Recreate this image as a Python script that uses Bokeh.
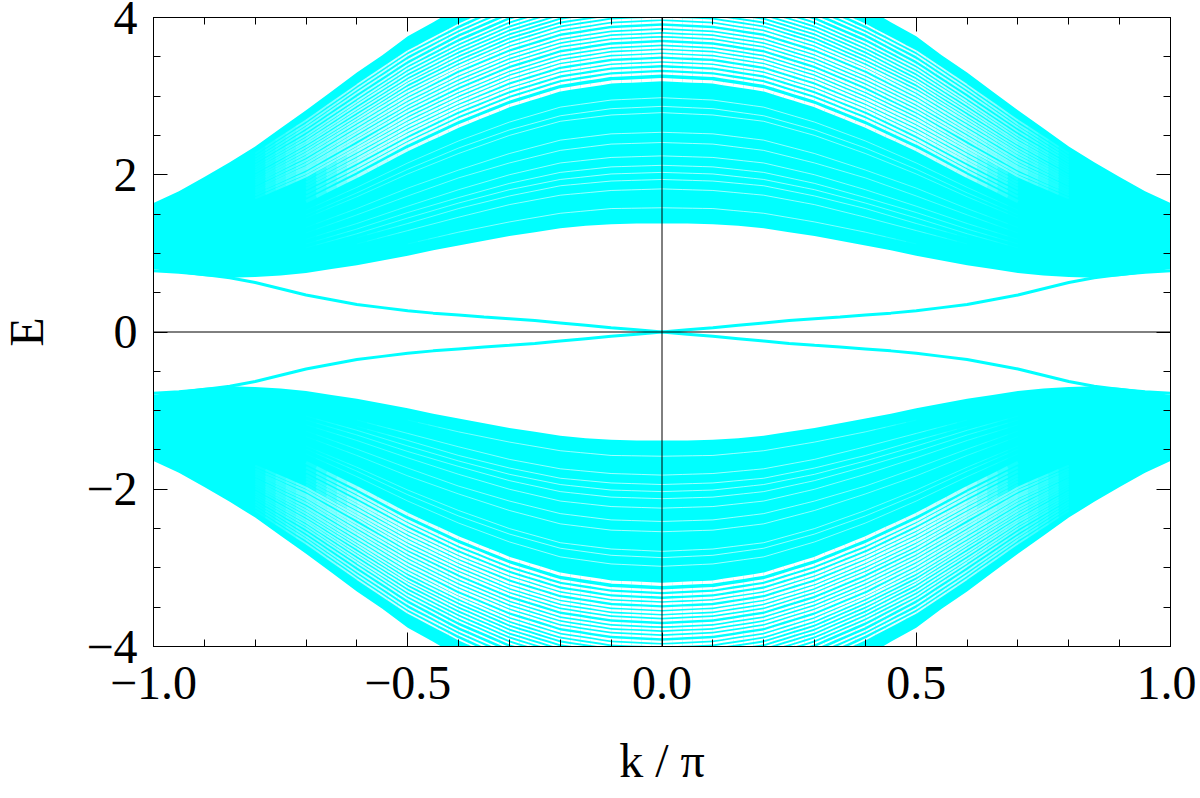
from bokeh.plotting import figure
from bokeh.models import Range1d, LinearAxis, SingleIntervalTicker, Span, ColumnDataSource
from bokeh.embed import file_html
from bokeh.resources import INLINE

# ---- data (k >= 0, E >= 0 quadrant; the figure is symmetric) ----
k_pts = [0.0, 0.05, 0.1, 0.15, 0.2, 0.25, 0.3, 0.35, 0.4, 0.45, 0.5,
         0.55, 0.6, 0.65, 0.7, 0.75, 0.8, 0.85, 0.9, 0.95, 1.0]
band_top = [4.72, 4.72, 4.70, 4.66, 4.60, 4.53, 4.45, 4.30, 4.13, 3.94, 3.76,
            3.52, 3.30, 3.06, 2.82, 2.59, 2.36, 2.16, 1.97, 1.79, 1.64]
band_bottom = [1.38, 1.38, 1.37, 1.35, 1.32, 1.27, 1.22, 1.16, 1.10, 1.04, 0.97,
               0.91, 0.85, 0.80, 0.75, 0.72, 0.70, 0.69, 0.71, 0.75, 0.80]
edge_state = [0.0, 0.028, 0.055, 0.085, 0.115, 0.145, 0.17, 0.19, 0.215, 0.24, 0.27,
              0.31, 0.35, 0.41, 0.47, 0.55, 0.63, 0.69, 0.73, 0.76, 0.78]

# visible gaps between sub-bands (upper bold stripes), sampled at k = 0, 0.1, ...
stripe_k = [0.0, 0.1, 0.2, 0.3, 0.4, 0.5, 0.6, 0.7, 0.8]
upper_gaps = [
    [3.21, 3.18, 3.08, 2.88, 2.62, 2.32, 1.98, 1.66],
    [3.29, 3.26, 3.16, 2.96, 2.70, 2.40, 2.05, 1.72],
    [3.35, 3.32, 3.22, 3.02, 2.76, 2.45, 2.10, 1.77],
    [3.41, 3.38, 3.28, 3.08, 2.82, 2.51, 2.16, 1.82],
    [3.46, 3.43, 3.33, 3.13, 2.87, 2.56, 2.20, 1.86],
    [3.52, 3.49, 3.39, 3.19, 2.92, 2.61, 2.25, 1.90],
    [3.57, 3.54, 3.44, 3.24, 2.97, 2.66, 2.30, 1.94],
    [3.62, 3.59, 3.49, 3.29, 3.02, 2.71, 2.34, 1.98, 1.70],
    [3.67, 3.64, 3.54, 3.34, 3.07, 2.76, 2.38, 2.02, 1.74],
    [3.73, 3.70, 3.60, 3.40, 3.13, 2.81, 2.44, 2.07, 1.77],
    [3.78, 3.75, 3.65, 3.45, 3.18, 2.86, 2.48, 2.10, 1.80],
    [3.83, 3.80, 3.70, 3.50, 3.23, 2.91, 2.53, 2.14, 1.83],
    [3.88, 3.85, 3.75, 3.55, 3.28, 2.96, 2.57, 2.18, 1.87],
    [3.94, 3.91, 3.81, 3.61, 3.34, 3.01, 2.62, 2.23, 1.90],
    [3.99, 3.96, 3.86, 3.66, 3.38, 3.06, 2.67, 2.27, 1.93],
    [4.04, 4.01, 3.91, 3.71, 3.43, 3.11, 2.71, 2.31, 1.96],
    [4.09, 4.06, 3.96, 3.76, 3.48, 3.16, 2.75, 2.35, 1.99],
    [4.14, 4.11, 4.01, 3.81, 3.53, 3.20, 2.80, 2.39, 2.03],
    [4.19, 4.16, 4.06, 3.86, 3.58, 3.25, 2.84, 2.42, 2.06],
    [4.24, 4.21, 4.11, 3.91, 3.63, 3.30, 2.89, 2.46, 2.09],
    [4.29, 4.26, 4.16, 3.96, 3.68, 3.35, 2.93, 2.50, 2.12],
    [4.35, 4.32, 4.22, 4.02, 3.74, 3.40, 2.98, 2.55, 2.16],
    [4.41, 4.38, 4.28, 4.08, 3.80, 3.46, 3.04, 2.60, 2.19],
    [4.47, 4.44, 4.34, 4.14, 3.85, 3.52, 3.09, 2.64, 2.23],
    [4.53, 4.50, 4.40, 4.20, 3.91, 3.57, 3.14, 2.69, 2.27],
]
upper_gap_width = [3.2] + [2.4] * 6 + [2.2] * 8 + [1.8] * 10

# faint gaps in the lower (dense) sub-band
lower_gaps = [
    [2.98, 2.95, 2.86, 2.67, 2.43, 2.15, 1.84, 1.55],
    [2.87, 2.84, 2.75, 2.57, 2.34, 2.07, 1.77, 1.49],
    [2.79, 2.76, 2.68, 2.50, 2.27, 2.01, 1.72, 1.45],
    [2.54, 2.52, 2.44, 2.27, 2.06, 1.83, 1.57, 1.33],
    [2.41, 2.39, 2.31, 2.15, 1.96, 1.73, 1.49, 1.26],
    [2.24, 2.22, 2.15, 2.00, 1.81, 1.60, 1.38, 1.18],
    [2.12, 2.10, 2.03, 1.89, 1.71, 1.52, 1.31, 1.12],
    [2.03, 2.01, 1.94, 1.81, 1.64, 1.45, 1.25, 1.07],
    [1.94, 1.92, 1.86, 1.73, 1.57, 1.38, 1.20],
    [1.82, 1.80, 1.74, 1.62, 1.46, 1.29, 1.12],
    [1.58, 1.57, 1.51, 1.40, 1.27, 1.12],
]
# visibility of the gaps along k (fading where the bands merge)
upper_alpha_k = [1.0, 1.0, 1.0, 1.0, 0.95, 0.85, 0.65, 0.4, 0.15]
lower_alpha_k = [0.7, 0.7, 0.65, 0.6, 0.5, 0.38, 0.25, 0.12]

x_tick_values = [-1.0, -0.5, 0.0, 0.5, 1.0]
x_tick_labels = ["\u22121.0", "\u22120.5", "0.0", "0.5", "1.0"]
y_tick_values = [-4, -2, 0, 2, 4]
y_tick_labels = ["\u22124", "\u22122", "0", "2", "4"]

CYAN = "#00FFFF"
FONT = "Liberation Serif"
SUB = 5  # pieces per drawn segment (for a smooth alpha fade)


def mirror_k(vals):
    """full k axis from -1 to 1 from the k >= 0 half (figure is symmetric in k)."""
    return list(reversed(vals)) + vals[1:]


k_full = [-k for k in reversed(k_pts)] + k_pts[1:]
top_full = mirror_k(band_top)
bot_full = mirror_k(band_bottom)

p = figure(width=1200, height=798, x_range=Range1d(-1, 1), y_range=Range1d(-4, 4),
           output_backend="svg", toolbar_location=None,
           min_border_left=157, min_border_top=21, min_border_right=26, min_border_bottom=148)
p.styles = {"margin-top": "-4px", "margin-left": "-4px"}
p.grid.visible = False
p.outline_line_color = "black"
p.outline_line_width = 1
p.background_fill_color = "white"
p.border_fill_color = "white"

# bulk continua
p.varea(x=k_full, y1=bot_full, y2=top_full, fill_color=CYAN)
p.varea(x=k_full, y1=[-v for v in top_full], y2=[-v for v in bot_full], fill_color=CYAN)

# white gaps between sub-bands, drawn as segments that fade with k
seg = dict(x0=[], y0=[], x1=[], y1=[], w=[], a=[])


def add_gap(vals, width, alphas):
    n = len(vals)
    for i in range(n - 1):
        a0 = alphas[i]
        a1 = 0.0 if i + 1 == n - 1 else alphas[i + 1]
        for s in range(SUB):
            t0, t1 = s / SUB, (s + 1) / SUB
            xa = stripe_k[i] + (stripe_k[i + 1] - stripe_k[i]) * t0
            xb = stripe_k[i] + (stripe_k[i + 1] - stripe_k[i]) * t1
            ya = vals[i] + (vals[i + 1] - vals[i]) * t0
            yb = vals[i] + (vals[i + 1] - vals[i]) * t1
            al = a0 + (a1 - a0) * (t0 + t1) / 2
            for sx in (1, -1):
                for sy in (1, -1):
                    seg["x0"].append(sx * xa)
                    seg["x1"].append(sx * xb)
                    seg["y0"].append(sy * ya)
                    seg["y1"].append(sy * yb)
                    seg["w"].append(width)
                    seg["a"].append(al)


for vals, w in zip(upper_gaps, upper_gap_width):
    add_gap(vals, w, upper_alpha_k)
for vals in lower_gaps:
    add_gap(vals, 0.9, lower_alpha_k)

p.segment(x0="x0", y0="y0", x1="x1", y1="y1", line_width="w", line_alpha="a",
          line_color="white", source=ColumnDataSource(seg))

# edge states crossing at k = 0
edge_a = list(reversed(edge_state)) + [-e for e in edge_state[1:]]
p.line(k_full, edge_a, line_color=CYAN, line_width=3)
p.line(k_full, [-e for e in edge_a], line_color=CYAN, line_width=3)

# zero lines
p.add_layout(Span(location=0, dimension="height", line_color="black", line_width=1))
p.add_layout(Span(location=0, dimension="width", line_color="black", line_width=1))


def style_axis(ax, ticker, overrides, show_labels):
    ax.ticker = ticker
    ax.major_tick_in = 14
    ax.major_tick_out = 0
    ax.minor_tick_in = 7
    ax.minor_tick_out = 0
    ax.axis_line_color = "black"
    ax.major_tick_line_color = "black"
    ax.minor_tick_line_color = "black"
    ax.major_label_overrides = overrides
    ax.major_label_text_font = FONT
    if show_labels:
        ax.major_label_text_color = "black"
        ax.major_label_text_font_size = "48px"
    else:
        ax.major_label_text_color = None
        ax.major_label_text_font_size = "1px"
        ax.major_label_standoff = 0


x_over = dict(zip(x_tick_values, x_tick_labels))
y_over = dict(zip(y_tick_values, y_tick_labels))

bottom_ax = p.xaxis[0]
left_ax = p.yaxis[0]
style_axis(bottom_ax, SingleIntervalTicker(interval=0.5, num_minor_ticks=5), x_over, True)
style_axis(left_ax, SingleIntervalTicker(interval=2, num_minor_ticks=4), y_over, True)
bottom_ax.major_label_standoff = 20
left_ax.major_label_standoff = 16

top_ax = LinearAxis()
right_ax = LinearAxis()
style_axis(top_ax, SingleIntervalTicker(interval=0.5, num_minor_ticks=5), {}, False)
style_axis(right_ax, SingleIntervalTicker(interval=2, num_minor_ticks=4), {}, False)
p.add_layout(top_ax, "above")
p.add_layout(right_ax, "right")

bottom_ax.axis_label = "k / \u03c0"
left_ax.axis_label = "E"
for ax in (bottom_ax, left_ax):
    ax.axis_label_text_font = FONT
    ax.axis_label_text_font_size = "48px"
    ax.axis_label_text_font_style = "normal"
    ax.axis_label_text_color = "black"
bottom_ax.axis_label_standoff = 32
left_ax.axis_label_standoff = 30

open("out.html", "w").write(file_html(p, INLINE))
